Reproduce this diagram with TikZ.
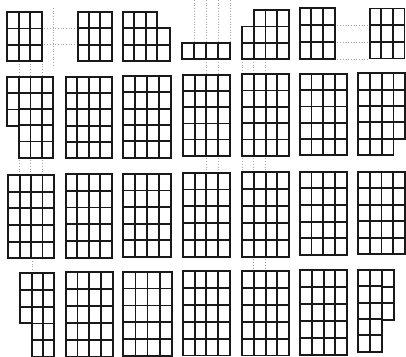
\documentclass[tikz,border=0pt]{standalone}
\usetikzlibrary{calc}
\tikzset{
  cellline/.style={line width=1.8pt, draw=black!90, line join=miter},
  guide/.style={line width=0.7pt, draw=black!35, dotted}
}
% \blk{x0}{y0}{x1}{y1}{ncols}{nrows}
\newcommand\blk[6]{%
  \pgfmathsetmacro\cw{(#3-#1)/#5}%
  \pgfmathsetmacro\ch{(#4-#2)/#6}%
  \foreach \i in {1,...,#5}{%
    \foreach \j in {1,...,#6}{%
      \draw[cellline] ({#1+(\i-1)*\cw},{#2+(\j-1)*\ch}) rectangle ++(\cw,\ch);
    }%
  }%
}
\begin{document}
\begin{tikzpicture}[x=1pt,y=-1pt]
\useasboundingbox[fill=white] (0,0) rectangle (406,356);
% faint guide lines
\draw[guide] (41.7,28.5) -- (77.7,28.5);
\draw[guide] (41.7,44.5) -- (77.7,44.5);
\draw[guide] (53,8) -- (53,65);
\foreach \x in {194.3,206,218.3,230}{\draw[guide] (\x,0) -- (\x,42.7);}
\foreach \y in {25,42,59}{\draw[guide] (334.7,\y) -- (369.7,\y);}
\foreach \x in {19,30.7,42.3}{\draw[guide] (\x,61) -- (\x,76.7); \draw[guide] (\x,157.7) -- (\x,175);}
\foreach \x in {206,218,242.3,253.7,265.3}{\draw[guide] (\x,59.3) -- (\x,75); \draw[guide] (\x,155.7) -- (\x,172.5);}
\draw[guide] (32.3,258.3) -- (32.3,273.3);
\foreach \x in {253.7,265.3}{\draw[guide] (\x,256.7) -- (\x,271);}
% ---- row 1
\blk{7.3}{12.3}{41.7}{61}{3}{3}
\blk{77.7}{12}{111.7}{61}{3}{3}
\blk{122.7}{12}{157.3}{61}{3}{3}
\blk{157.3}{28.3}{170}{61}{1}{2}
\blk{182.3}{42.7}{230}{59.3}{4}{1}
\blk{253.7}{10}{289}{59.3}{3}{3}
\blk{242.3}{26.4}{253.7}{59.3}{1}{2}
\blk{299.7}{8.3}{334.7}{59.3}{3}{3}
\blk{369.7}{8.5}{404.5}{58.5}{3}{3}
% ---- row 2
\blk{7.3}{76.7}{19}{126}{1}{3}
\blk{19}{76.7}{53.3}{157.7}{3}{5}
\blk{65.7}{76.7}{111.7}{158.3}{4}{5}
\blk{123.3}{76}{170.7}{157.7}{4}{5}
\blk{183}{75}{229.7}{155.7}{4}{5}
\blk{242.3}{74.3}{289}{155.7}{4}{5}
\blk{299.7}{74}{347}{155}{4}{5}
\blk{358}{73.3}{393.5}{155}{3}{5}
\blk{393.5}{73.3}{405}{138.7}{1}{4}
% ---- row 3
\blk{8.3}{175}{54}{258.3}{4}{5}
\blk{65.7}{174}{111.7}{257.7}{4}{5}
\blk{123.3}{174}{170.7}{256.7}{4}{5}
\blk{183}{172.7}{229.7}{256.7}{4}{5}
\blk{242.3}{172}{289}{256.7}{4}{5}
\blk{299.7}{171.7}{347}{255}{4}{5}
\blk{358}{171.7}{405}{254.3}{4}{5}
% ---- row 4
\blk{20}{273.3}{32.3}{323.3}{1}{3}
\blk{32.3}{273.3}{54}{357}{2}{5}
\blk{65.7}{272.3}{112.7}{356.5}{4}{5}
\blk{123.3}{271.7}{171.7}{356}{4}{5}
\blk{183}{271}{229.7}{355.5}{4}{5}
\blk{242.3}{271}{289}{355.5}{4}{5}
\blk{300.3}{270}{347}{355}{4}{5}
\blk{357.7}{270}{381.7}{351.7}{2}{5}
\blk{381.7}{270}{394.3}{320}{1}{3}
\end{tikzpicture}
\end{document}
